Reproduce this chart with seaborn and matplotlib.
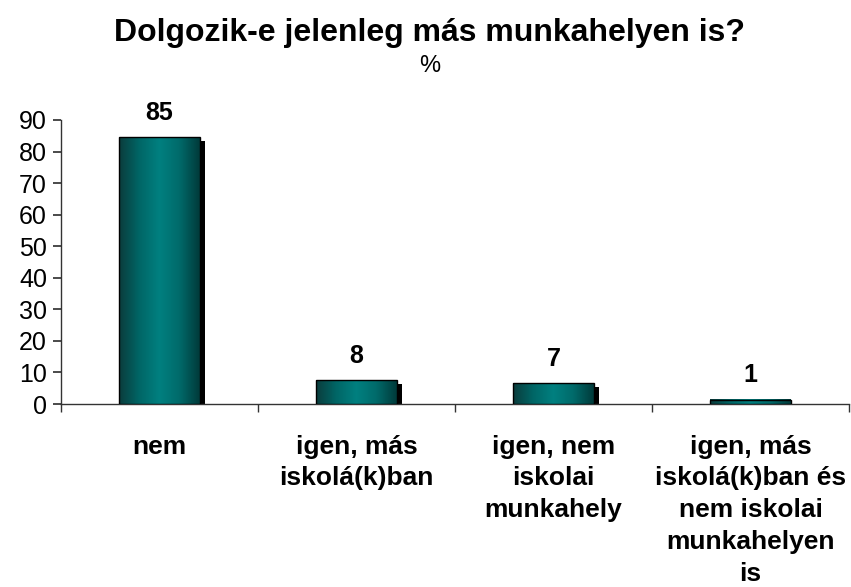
import numpy as np
import pandas as pd
import matplotlib
matplotlib.use("Agg")
import matplotlib.pyplot as plt
import matplotlib.transforms as mtransforms
from matplotlib.colors import LinearSegmentedColormap
from matplotlib.patches import Rectangle
import seaborn as sns

categories = ["nem", "igen, más\niskolá(k)ban", "igen, nem\niskolai\nmunkahely",
              "igen, más\niskolá(k)ban és\nnem iskolai\nmunkahelyen\nis"]
values = [84.6, 7.6, 6.6, 1.3]
value_labels = ["85", "8", "7", "1"]
yticks = [0, 10, 20, 30, 40, 50, 60, 70, 80, 90]

sns.set_theme(style="white")
plt.rcParams["font.family"] = ["Liberation Sans", "DejaVu Sans"]
plt.rcParams["text.color"] = "black"
plt.rcParams["xtick.color"] = "black"
plt.rcParams["ytick.color"] = "black"
plt.rcParams["xtick.labelcolor"] = "black"
plt.rcParams["ytick.labelcolor"] = "black"

fig = plt.figure(figsize=(8.51, 5.87), dpi=100)
ax = fig.add_axes([61/851, 183/587, (849-61)/851, (404-120)/587])

df = pd.DataFrame({"cat": categories, "val": values})
sns.barplot(data=df, x="cat", y="val", ax=ax, width=0.41, color="#008080")

cmap = LinearSegmentedColormap.from_list(
    "tealgrad", ["#0b3c3c", "#006666", "#008080", "#006a6a", "#003a3a"])
grad = np.linspace(0, 1, 256).reshape(1, -1)
shadow_tr = mtransforms.offset_copy(ax.transData, fig=fig, x=5, y=-4, units="dots")

for p, lab in zip(ax.patches, value_labels):
    x, w, h = p.get_x(), p.get_width(), p.get_height()
    p.set_facecolor("none")
    p.set_edgecolor("black")
    p.set_linewidth(1.0)
    p.set_zorder(4)
    ax.add_patch(Rectangle((x, 0), w, h, transform=shadow_tr, facecolor="black",
                           edgecolor="none", zorder=2))
    ax.imshow(grad, cmap=cmap, extent=(x, x + w, 0, h), aspect="auto",
              interpolation="bicubic", zorder=3)
    ax.annotate(lab, (x + w / 2, h), xytext=(0, 9), textcoords="offset points",
                ha="center", va="bottom", fontsize=18, fontweight="bold", color="black")

ax.set_xlim(-0.5, 3.5)
ax.set_ylim(0, 90)
ax.set_yticks(yticks)
ax.set_yticklabels([str(t) for t in yticks], fontsize=18)
ax.set_xticks(range(len(categories)))
ax.set_xticklabels(categories, fontsize=19, fontweight="bold", linespacing=1.41, va="top")
ax.tick_params(axis="x", which="major", length=0, pad=22)
ax.set_xticks(np.arange(-0.5, 4.0, 1.0), minor=True)
ax.tick_params(axis="x", which="minor", length=6, direction="out", color="#333333", bottom=True)
ax.tick_params(axis="y", length=6, direction="out", color="#333333", left=True, pad=4)
ax.set_xlabel("")
ax.set_ylabel("")

for s in ["top", "right"]:
    ax.spines[s].set_visible(False)
for s in ["left", "bottom"]:
    ax.spines[s].set_color("#333333")
    ax.spines[s].set_linewidth(1.0)

fig.text(0.505, 0.944, "Dolgozik-e jelenleg más munkahelyen is?", ha="center", va="center",
         fontsize=23, fontweight="bold", color="black")
fig.text(0.505, 0.887, "%", ha="center", va="center", fontsize=17, color="black")

fig.savefig("out.png", dpi=100)
